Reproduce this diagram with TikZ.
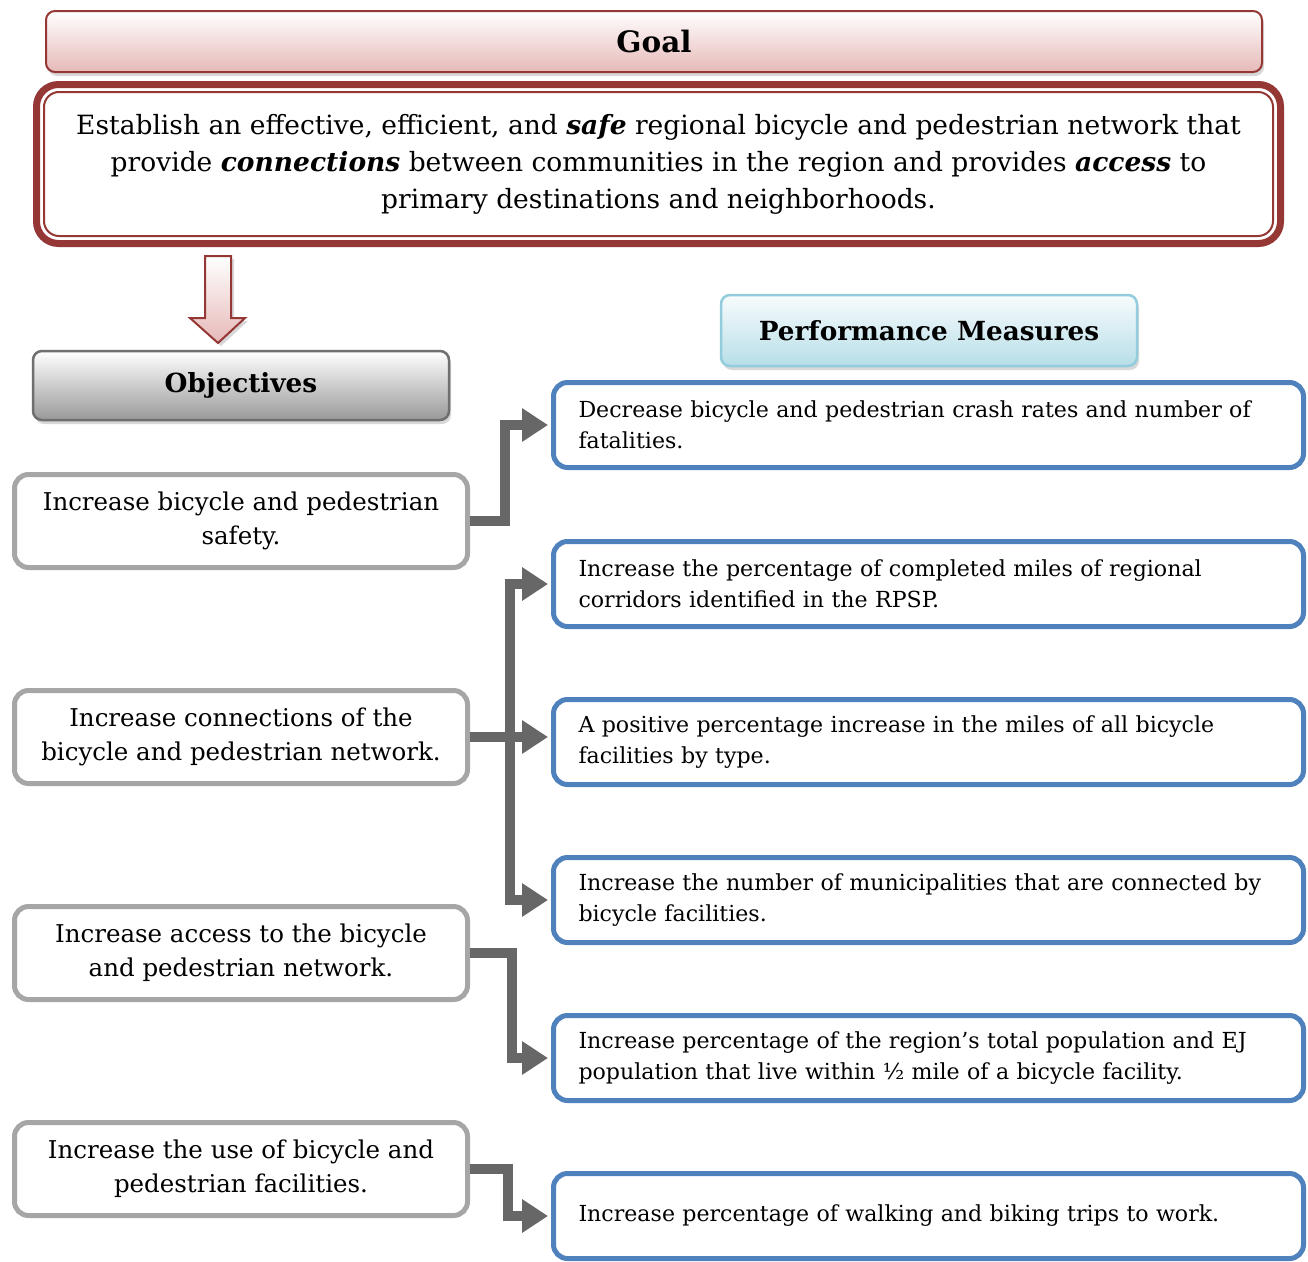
\documentclass[tikz,border=0pt]{standalone}
\usepackage{fontspec}
\setmainfont{DejaVu Serif}
\usetikzlibrary{arrows.meta,shadows}
\definecolor{goalred}{HTML}{953735}
\definecolor{goalpink}{HTML}{E6B9B8}
\definecolor{pmblue}{HTML}{4F81BD}
\definecolor{pmcyan}{HTML}{B7DEE8}
\definecolor{pmcyanline}{HTML}{93CDDD}
\definecolor{objgrey}{HTML}{A6A6A6}
\definecolor{hdrgrey}{HTML}{6F6F6F}
\definecolor{linkgrey}{HTML}{676767}
\tikzset{
  header/.style={rounded corners=9pt, line width=2.5pt,
    font=\fontsize{26.3}{30}\selectfont\bfseries,
    minimum width=416pt, minimum height=69pt,
    drop shadow={shadow xshift=2pt, shadow yshift=-4pt, fill=black!30}},
  objbox/.style={draw=objgrey, line width=5pt, rounded corners=14pt, fill=white,
    minimum width=453pt, minimum height=93pt, align=center,
    font=\fontsize{24.5}{34}\selectfont},
  pmbox/.style={draw=pmblue, line width=5pt, rounded corners=14pt, fill=white,
    minimum width=750pt, minimum height=85pt, text width=700pt, align=left,
    font=\fontsize{22.1}{31}\selectfont},
  link/.style={draw=linkgrey, line width=10pt,
    -{Triangle[length=26pt,width=32pt]}, shorten >=3pt},
}
\begin{document}
\begin{tikzpicture}[x=1pt, y=-1pt]
  \path[use as bounding box, fill=white] (0,0) rectangle (1308,1261);
  % goal
  \node[header, draw=goalred, line width=2pt, top color=white, bottom color=goalpink,
    minimum width=1216pt, minimum height=61pt, font=\fontsize{29.5}{32}\selectfont\bfseries]
    (goalbar) at (654,41.5) {Goal};
  \node[draw=goalred, line width=7pt, rounded corners=22pt, minimum width=1244pt,
    minimum height=159pt, align=center, font=\fontsize{26.5}{37}\selectfont]
    (goal) at (658.5,164) {Establish an effective, efficient, and \textbf{\textit{safe}} regional bicycle and pedestrian network that\\
    provide \textbf{\textit{connections}} between communities in the region and provides \textbf{\textit{access}} to\\
    primary destinations and neighborhoods.};
  \draw[goalred, line width=2pt, rounded corners=15pt]
    ([shift={(11,11)}]goal.north west) rectangle ([shift={(-11,-11)}]goal.south east);
  \path[draw=goalred, line width=2pt, top color=white, bottom color=goalpink,
    drop shadow={shadow xshift=3pt, shadow yshift=-3pt, fill=black!30}]
    (205,256) -- (231,256) -- (231,318) -- (245,318) -- (218,343) -- (190,318) -- (205,318) -- cycle;
  % headers
  \node[header, draw=hdrgrey, top color=white, bottom color=black!40] (objhead) at (241,385.5) {Objectives};
  \node[header, draw=pmcyanline, top color=white!90!pmcyan, bottom color=pmcyan,
    minimum height=71pt] (pmhead) at (929,330.5) {Performance Measures};
  % objectives
  \foreach \n/\y/\txt in {
      1/521/{Increase bicycle and pedestrian\\safety.},
      2/737/{Increase connections of the\\bicycle and pedestrian network.},
      3/953/{Increase access to the bicycle\\and pedestrian network.},
      4/1169/{Increase the use of bicycle and\\pedestrian facilities.}} {
    \node[objbox] (obj\n) at (241,\y) {\txt};
  }
  % performance measures
  \foreach \n/\y/\txt in {
      1/425/{Decrease bicycle and pedestrian crash rates and number of\\fatalities.},
      2/584/{Increase the percentage of completed miles of regional\\corridors identified in the RPSP.},
      3/742/{A positive percentage increase in the miles of all bicycle\\facilities by type.},
      4/900/{Increase the number of municipalities that are connected by\\bicycle facilities.},
      5/1058/{Increase percentage of the region’s total population and EJ\\population that live within ½ mile of a bicycle facility.},
      6/1216/{Increase percentage of walking and biking trips to work.}} {
    \node[pmbox] (pm\n) at (928.5,\y) {\txt};
  }
  % links
  \draw[link] (obj1.east) -- ++(35,0) |- (pm1.west);
  \coordinate (hub) at ([xshift=40pt]obj2.east);
  \draw[link] (obj2.east) -- (obj2.east -| pm3.west);
  \draw[link] (hub) |- (pm2.west);
  \draw[link] (hub) |- (pm4.west);
  \draw[link] (obj3.east) -- ++(42,0) |- (pm5.west);
  \draw[link] (obj4.east) -- ++(38,0) |- (pm6.west);
\end{tikzpicture}
\end{document}
